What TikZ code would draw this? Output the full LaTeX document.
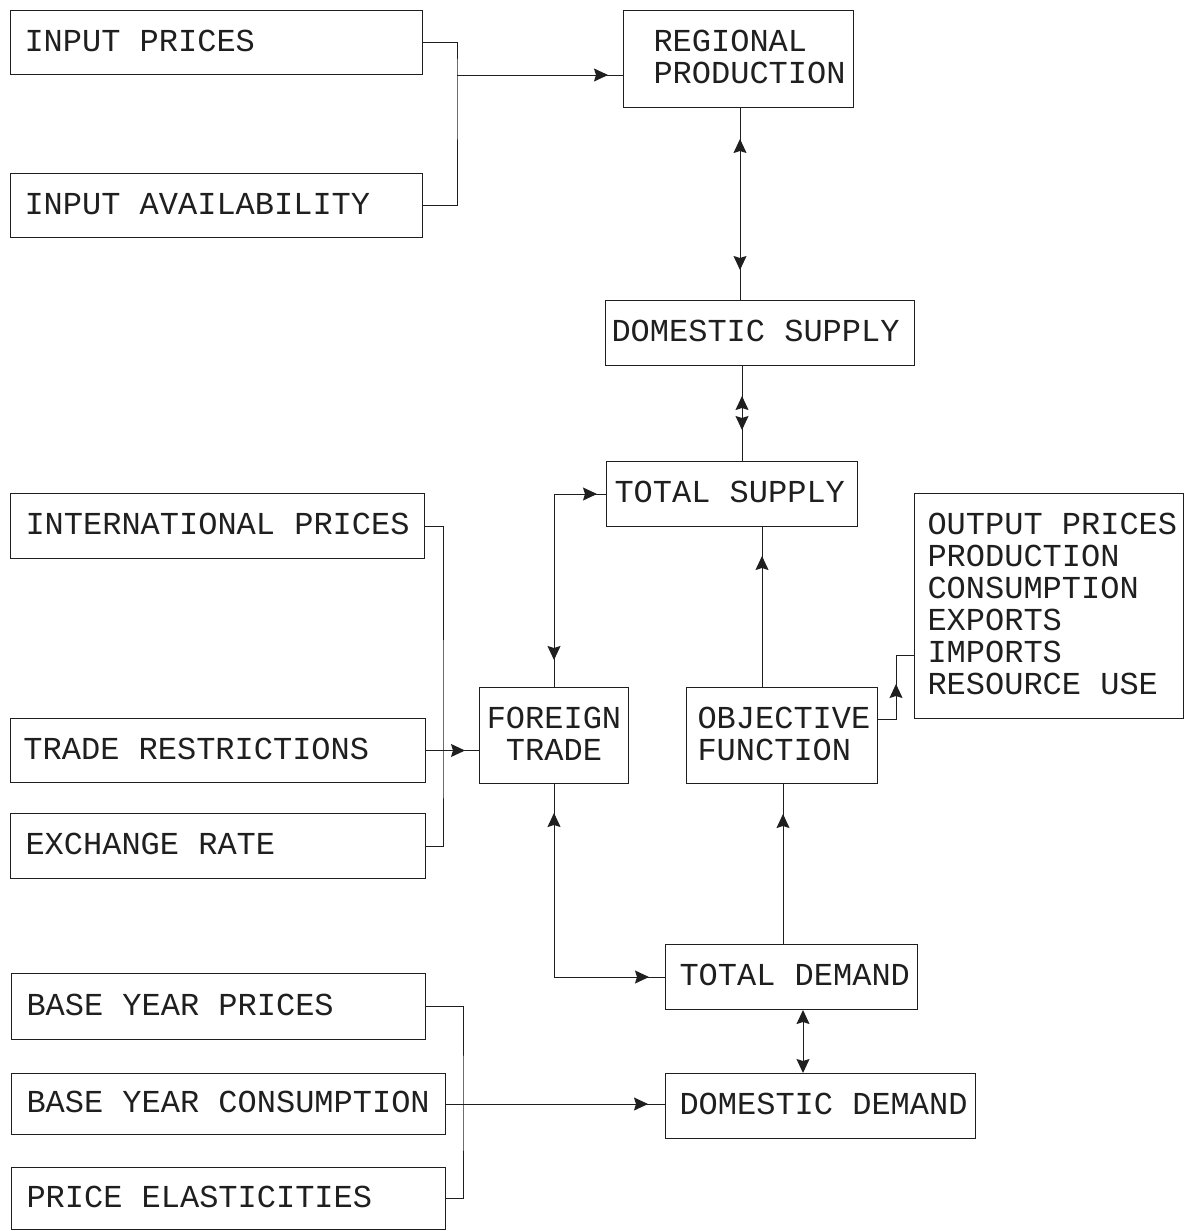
\documentclass[tikz,border=0pt]{standalone}
\usepackage{fontspec}
\setmainfont{Liberation Mono}
\usetikzlibrary{arrows.meta,decorations.markings}
\definecolor{ink}{gray}{0.12}
\newcommand\bxt[3]{\makebox[#1pt][l]{\hspace*{#2pt}\raisebox{-2.5pt}[\height][\depth]{\begin{tabular}{@{}l@{}}#3\end{tabular}}}}
\newcommand\bxc[2]{\makebox[#1pt][c]{\raisebox{-2.5pt}[\height][\depth]{\begin{tabular}{@{}c@{}}#2\end{tabular}}}}
\begin{document}
\begin{tikzpicture}[x=1pt,y=1pt,
  box/.style={draw=ink, line width=1pt, inner sep=0pt, anchor=north west, text=ink,
              font=\fontsize{32}{32}\selectfont},
  conn/.style={draw=ink, line width=1pt},
  fwd/.style={postaction={decorate,decoration={markings,
      mark=at position #1 with {\arrow{Stealth[length=14pt,width=13pt,inset=2pt]}}}}},
  bwd/.style={postaction={decorate,decoration={markings,
      mark=at position #1 with {\arrowreversed{Stealth[length=14pt,width=13pt,inset=2pt]}}}}},
  both/.style={{Stealth[length=14pt,width=13pt,inset=2pt]}-{Stealth[length=14pt,width=13pt,inset=2pt]}}
]
\useasboundingbox (0,0) rectangle (1185,-1231);

% boxes
\node[box, minimum width=412pt, minimum height=64pt] (ip) at (10,-10) {\bxt{412}{14}{INPUT PRICES}};
\node[box, minimum width=412pt, minimum height=64pt] (ia) at (10,-173) {\bxt{412}{14}{INPUT AVAILABILITY}};
\node[box, minimum width=230pt, minimum height=97pt] (rp) at (623,-10) {\bxt{230}{30}{REGIONAL\\PRODUCTION}};
\node[box, minimum width=309pt, minimum height=65pt] (ds) at (605,-300) {\bxt{309}{6}{DOMESTIC SUPPLY}};
\node[box, minimum width=251pt, minimum height=65pt] (ts) at (606,-461) {\bxt{251}{8}{TOTAL SUPPLY}};
\node[box, minimum width=414pt, minimum height=65pt] (intp) at (10,-493) {\bxt{414}{15}{INTERNATIONAL PRICES}};
\node[box, minimum width=415pt, minimum height=64pt] (tr) at (10,-718) {\bxt{415}{13}{TRADE RESTRICTIONS}};
\node[box, minimum width=415pt, minimum height=65pt] (er) at (10,-813) {\bxt{415}{15}{EXCHANGE RATE}};
\node[box, minimum width=149pt, minimum height=96pt] (ft) at (479,-687) {\bxc{149}{FOREIGN\\TRADE}};
\node[box, minimum width=191pt, minimum height=96pt] (of) at (686,-687) {\bxt{191}{11}{OBJECTIVE\\FUNCTION}};
\node[box, minimum width=269pt, minimum height=225pt] (out) at (914,-493)
  {\bxt{269}{13}{OUTPUT PRICES\\PRODUCTION\\CONSUMPTION\\EXPORTS\\IMPORTS\\RESOURCE USE}};
\node[box, minimum width=252pt, minimum height=65pt] (td) at (665,-944) {\bxt{252}{14}{TOTAL DEMAND}};
\node[box, minimum width=310pt, minimum height=65pt] (dd) at (665,-1073) {\bxt{310}{14}{DOMESTIC DEMAND}};
\node[box, minimum width=414pt, minimum height=66pt] (byp) at (11,-973) {\bxt{414}{15}{BASE YEAR PRICES}};
\node[box, minimum width=434pt, minimum height=61pt] (byc) at (11,-1073) {\bxt{434}{15}{BASE YEAR CONSUMPTION}};
\node[box, minimum width=434pt, minimum height=62pt] (pe) at (11,-1167) {\bxt{434}{15}{PRICE ELASTICITIES}};

% helper coordinates
\coordinate (br1) at (457,-75);
\coordinate (br2) at (443,-751);
\coordinate (br3) at (463,-1104);
\coordinate (v1) at (740,0);
\coordinate (v2) at (742,0);
\coordinate (v3) at (762,0);
\coordinate (v4) at (783,0);
\coordinate (v5) at (803,0);
\coordinate (j1) at (896,-655);
\coordinate (h1) at (0,-719);

% connectors
\draw[conn] (ip.east) -| (br1) |- (ia.east);
\draw[conn, fwd=-15pt] (br1) -- (br1 -| rp.west);
\draw[conn, bwd=31pt, fwd=-30pt] (rp.south -| v1) -- (ds.north -| v1);
\draw[conn, bwd=30pt, fwd=-31pt] (ds.south -| v2) -- (ts.north -| v2);
\draw[conn, bwd=27pt, fwd=-9pt] (ft.north) |- (ts.west);
\draw[conn, fwd=-29pt] (of.north -| v3) -- (ts.south -| v3);
\draw[conn, fwd=53pt] (of.east |- h1) -| (j1) -- (j1 -| out.west);
\draw[conn, fwd=-30pt] (td.north -| v4) -- (of.south -| v4);
\draw[conn, bwd=29pt, fwd=-16pt] (ft.south) |- (td.west);
\draw[conn, both] (td.south -| v5) -- (dd.north -| v5);

\draw[conn] (intp.east) -| (br2) |- (er.east);
\draw[conn, fwd=-14pt] (tr.east) -- (tr.east -| ft.west);

\draw[conn] (byp.east) -| (br3) |- (pe.east);
\draw[conn, fwd=-17pt] (byc.east) -- (byc.east -| dd.west);
\end{tikzpicture}
\end{document}
